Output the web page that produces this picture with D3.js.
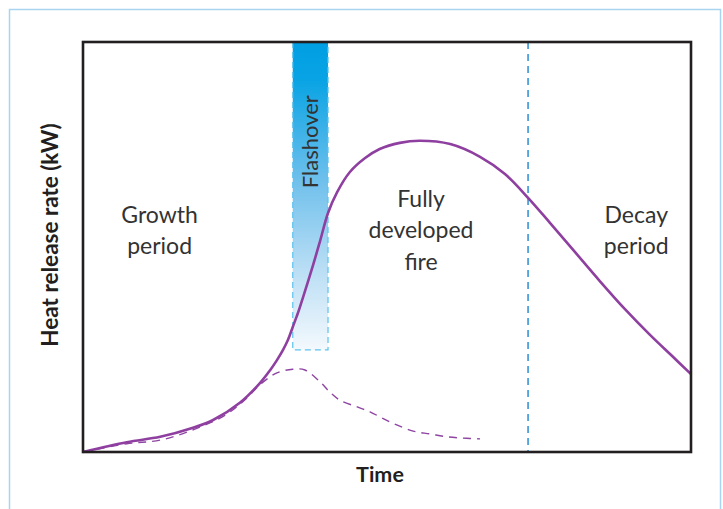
<!DOCTYPE html>
<html>
<head>
<meta charset="utf-8">
<script src="https://cdn.jsdelivr.net/npm/d3@7"></script>
<style>
  html, body { margin: 0; padding: 0; background: #ffffff; }
  svg { display: block; }
  text { font-family: "Lato", "DejaVu Sans", sans-serif; }
</style>
</head>
<body>
<div id="chart"></div>
<script>
// ---- data (normalised time 0..100, heat release rate 0..100) ----
const hrrTime  = [0, 7.2, 12.7, 18.1, 21.4, 25.8, 29.1, 30.8, 31.9, 32.9, 33.7, 34.5, 35.4, 36.2, 37.8, 39.0, 40.3, 41.8, 43.9, 46.4, 48.8, 52.1, 55.4, 60.4, 65.3, 69.4, 73.2, 76.8, 80.9, 85.0, 89.1, 93.3, 96.9, 100];
const hrrValue = [0, 2.4, 3.7, 5.9, 7.8, 12.0, 16.8, 20.0, 22.4, 24.9, 27.3, 30.5, 34.1, 37.8, 45.4, 51.5, 58.3, 63.4, 68.3, 71.7, 73.9, 75.4, 75.9, 75.1, 72.0, 67.8, 62.0, 55.9, 48.8, 41.7, 34.9, 28.5, 23.4, 19.0];
const noFlashTime  = [0, 7.2, 12.7, 18.1, 23.4, 26.6, 29.4, 31.9, 34.5, 36.5, 39.0, 40.6, 42.3, 45.1, 47.2, 49.3, 51.6, 54.3, 57.1, 59.9, 62.5, 65.3];
const noFlashValue = [0, 2.0, 2.9, 5.4, 9.0, 12.7, 16.8, 19.3, 20.2, 20.0, 17.1, 14.6, 12.6, 11.0, 9.8, 8.2, 6.6, 5.1, 4.4, 3.7, 3.4, 3.2];
const flashoverStart = 34.5, flashoverEnd = 40.3, flashoverBottom = 24.9;
const decayStart = 73.2;
const phaseLabels = [
  { lines: ["Growth", "period"], t: 12.6, v: 56.6 },
  { lines: ["Fully", "developed", "fire"], t: 55.6, v: 60.5 },
  { lines: ["Decay", "period"], t: 91.0, v: 56.6 }
];
const flashoverLabel = "Flashover";
const xTitle = "Time";
const yTitle = "Heat release rate (kW)";

(function () {
// ---- layout ----
const W = 723, H = 509;
const mL = 83, mR = 691, mT = 42, mB = 452;

const svg = d3.select("#chart").append("svg").attr("width", W).attr("height", H);

const x = d3.scaleLinear().domain([0, 100]).range([mL, mR]);
const y = d3.scaleLinear().domain([0, 100]).range([mB, mT]);

// outer light-blue frame
svg.append("rect").attr("x", 9.5).attr("y", 9.5).attr("width", 711).attr("height", 520)
  .attr("fill", "none").attr("stroke", "#a9d4f0").attr("stroke-width", 1.5);

// gradient for flashover band
const defs = svg.append("defs");
const grad = defs.append("linearGradient").attr("id", "fo").attr("x1", 0).attr("y1", 0).attr("x2", 0).attr("y2", 1);
[[0, "#009fe3"], [0.12, "#08a3e4"], [0.45, "#6fc0ec"], [0.75, "#bcdff5"], [1, "#f4f9fd"]]
  .forEach(([o, c]) => grad.append("stop").attr("offset", o).attr("stop-color", c));

const fx0 = x(flashoverStart), fx1 = x(flashoverEnd), fy1 = y(flashoverBottom);
svg.append("rect").attr("x", fx0).attr("y", mT).attr("width", fx1 - fx0).attr("height", fy1 - mT)
  .attr("fill", "url(#fo)");
svg.append("path")
  .attr("d", `M${fx0},${mT}V${fy1}H${fx1}V${mT}`)
  .attr("fill", "none").attr("stroke", "#5cc2ee").attr("stroke-width", 1.2)
  .attr("stroke-dasharray", "6,4");

svg.append("text")
  .attr("transform", `translate(${(fx0 + fx1) / 2 + 7.5},${y(75.7)}) rotate(-90)`)
  .attr("text-anchor", "middle").attr("font-size", 22).attr("fill", "#333")
  .text(flashoverLabel);

// decay start line
svg.append("line").attr("x1", x(decayStart)).attr("x2", x(decayStart)).attr("y1", mT).attr("y2", mB)
  .attr("stroke", "#2b8fd4").attr("stroke-width", 1.5).attr("stroke-dasharray", "7,5");

// curves
const line = d3.line().x(d => x(d[0])).y(d => y(d[1])).curve(d3.curveCatmullRom.alpha(0.5));
svg.append("path").datum(noFlashTime.map((t, i) => [t, noFlashValue[i]]))
  .attr("d", line).attr("fill", "none").attr("stroke", "#8e44a2").attr("stroke-width", 1.4)
  .attr("stroke-dasharray", "8,6");
svg.append("path").datum(hrrTime.map((t, i) => [t, hrrValue[i]]))
  .attr("d", line).attr("fill", "none").attr("stroke", "#8e3fa0").attr("stroke-width", 2.6);

// phase labels
phaseLabels.forEach(p => {
  const t = svg.append("text").attr("text-anchor", "middle").attr("font-size", 23).attr("fill", "#333");
  p.lines.forEach((l, i) => {
    t.append("tspan").attr("x", x(p.t)).attr("y", y(p.v) + i * 31.5 + 3).text(l);
  });
});

// plot frame
svg.append("rect").attr("x", mL).attr("y", mT).attr("width", mR - mL).attr("height", mB - mT)
  .attr("fill", "none").attr("stroke", "#231f20").attr("stroke-width", 2.6);

// axis titles
svg.append("text").attr("x", 380).attr("y", 482)
  .attr("text-anchor", "middle").attr("font-size", 21.5).attr("font-weight", "bold").attr("fill", "#231f20")
  .text(xTitle);
svg.append("text").attr("transform", `translate(58,235) rotate(-90)`)
  .attr("text-anchor", "middle").attr("font-size", 22.5).attr("font-weight", "bold").attr("fill", "#231f20")
  .text(yTitle);
})();
</script>
</body>
</html>
